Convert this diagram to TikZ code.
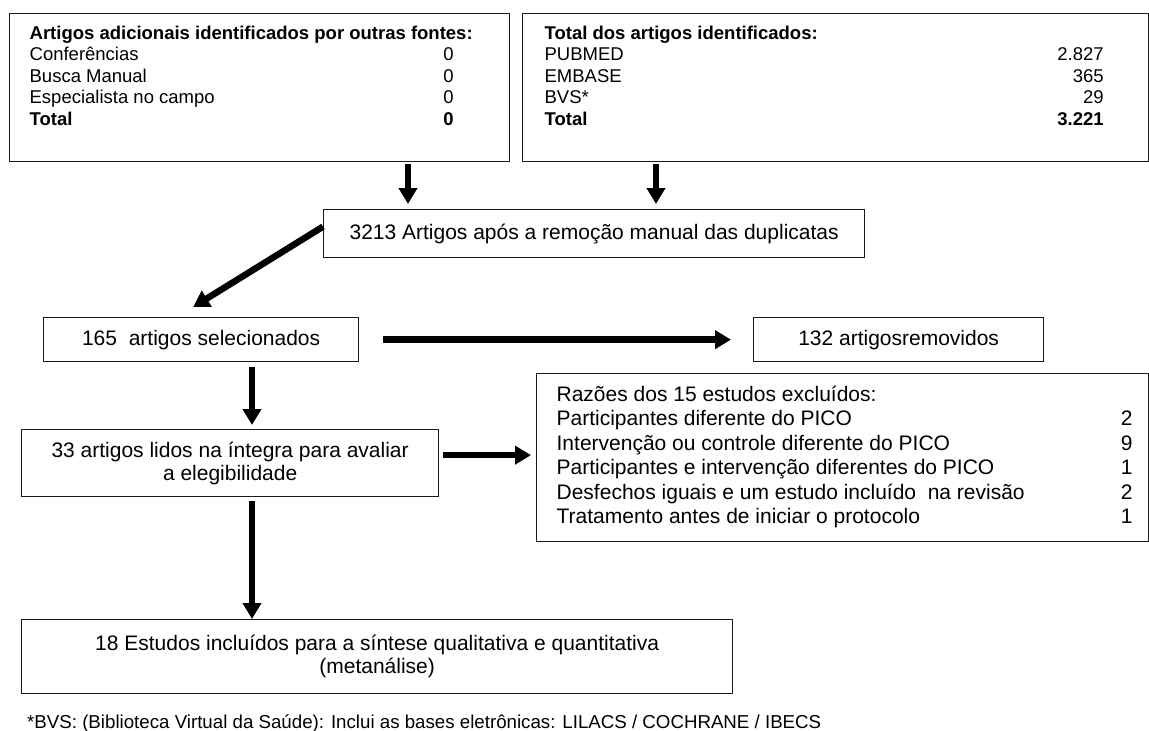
\documentclass[tikz,border=0pt]{standalone}
\usepackage{fontspec}
\setmainfont{Liberation Sans}
\usetikzlibrary{arrows.meta}
\definecolor{fline}{HTML}{1A1A1A}
\newcommand{\boxtxt}{\fontsize{21}{23}\selectfont}
\newcommand{\listtxt}{\fontsize{18.5}{21.5}\selectfont}
\newcommand{\reasontxt}{\fontsize{21}{24.5}\selectfont}
\newcommand{\notetxt}{\fontsize{18.7}{21}\selectfont}

\begin{document}
\begin{tikzpicture}[x=1pt,y=-1pt, every node/.style={font=\boxtxt,align=center}, box/.style={draw=fline,line width=1.3pt,anchor=north west,inner sep=0pt}, mainbox/.style={box,align=center}, listbox/.style={box,inner xsep=20pt,inner ysep=12pt,align=left,font=\listtxt}, arr/.style={-{Triangle[length=16pt,width=18pt]},line width=6.5pt}]
\useasboundingbox (0,0) rectangle (1149,731);
% search sources
\node[listbox,minimum width=500pt,minimum height=148pt] (other) at (9,13) {\parbox[c][124pt][t]{460pt}{\textbf{Artigos adicionais identificados por outras fontes:}\\
  \begin{tabular*}{424pt}[t]{@{}l@{\extracolsep{\fill}}r@{}}
  Conferências & 0\\ Busca Manual & 0\\ Especialista no campo & 0\\ \textbf{Total} & \textbf{0}
  \end{tabular*}}};
\node[listbox,minimum width=626pt,minimum height=148pt,inner xsep=22pt] (ident) at (522,13) {\parbox[c][124pt][t]{582pt}{\textbf{Total dos artigos identificados:}\\
  \begin{tabular*}{559pt}[t]{@{}l@{\extracolsep{\fill}}r@{}}
  PUBMED & 2.827\\ EMBASE & 365\\ BVS* & 29\\ \textbf{Total} & \textbf{3.221}
  \end{tabular*}}};
% screening
\node[mainbox,minimum width=541pt,minimum height=48pt] (dedup) at (323,209) {3213 Artigos após a remoção manual das duplicatas};
\node[mainbox,minimum width=315pt,minimum height=44pt] (sel) at (43,317) {165\ \ artigos selecionados};
\node[mainbox,minimum width=290pt,minimum height=44pt] (removed) at (753,317) {132 artigosremovidos};
\node[mainbox,minimum width=417pt,minimum height=67pt] (full) at (21,429) {33 artigos lidos na íntegra para avaliar\\a elegibilidade};
\node[listbox,font=\reasontxt,minimum width=612pt,minimum height=168pt,inner xsep=16pt,inner ysep=0pt] (reasons) at (536,373) {\begin{tabular*}{580pt}{@{\hspace{4pt}}l@{\extracolsep{\fill}}r@{}}
  Razões dos 15 estudos excluídos: & \\
  Participantes diferente do PICO & 2\\
  Intervenção ou controle diferente do PICO & 9\\
  Participantes e intervenção diferentes do PICO & 1\\
  Desfechos iguais e um estudo incluído\ \ na revisão & 2\\
  Tratamento antes de iniciar o protocolo & 1
  \end{tabular*}};
\node[mainbox,minimum width=711pt,minimum height=74pt] (final) at (21,619) {18 Estudos incluídos para a síntese qualitativa e quantitativa\\(metanálise)};
\node[anchor=base west,font=\notetxt,inner sep=0pt] (note) at (27,728) {*BVS: (Biblioteca Virtual da Saúde): Inclui as bases eletrônicas: LILACS / COCHRANE / IBECS};
% arrows
\coordinate (ax1) at (408,0); \coordinate (ax2) at (656,0); \coordinate (ax3) at (252,0);
\draw[arr,shorten <=2pt,shorten >=5pt] (other.south -| ax1) -- (dedup.north -| ax1);
\draw[arr,shorten <=2pt,shorten >=5pt] (ident.south -| ax2) -- (dedup.north -| ax2);
\draw[arr] ([yshift=7pt]dedup.west) -- ([xshift=-8pt,yshift=10pt]sel.north);
\draw[arr,shorten <=24pt,shorten >=22pt] (sel.east) -- (removed.west);
\draw[arr,shorten <=5pt,shorten >=4pt] (sel.south -| ax3) -- (full.north -| ax3);
\draw[arr,shorten <=4pt,shorten >=5pt] ([yshift=8pt]full.east) -- ([yshift=8pt]full.east -| reasons.west);
\draw[arr,shorten <=4pt] (full.south -| ax3) -- (final.north -| ax3);
\end{tikzpicture}
\end{document}
